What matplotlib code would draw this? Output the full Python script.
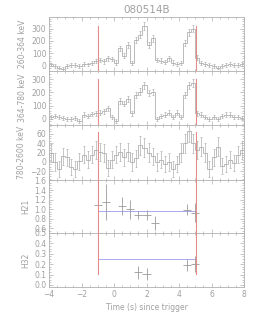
import numpy as np
import matplotlib
matplotlib.use("Agg")
import matplotlib.pyplot as plt
from matplotlib.ticker import MultipleLocator, FixedLocator

# time bins (0.25 s) from -4 to 8 s
edges = np.arange(-4.0, 8.0001, 0.25)
centers = edges[:-1] + 0.125

cnt_lo = [10, -5, -15, -25, 0, 5, 5, 0, 15, 10, 25, 35,
          45, 35, 60, 55, 25, 140, 80, 165, 20, 210, 250, 320,
          165, 220, 45, 40, 30, 60, 25, 15, 20, 180, 270, 300,
          65, 20, 10, 5, 0, -15, 0, 5, 15, 5, 5, 10]
err_lo = [15, 15, 15, 15, 15, 15, 15, 15, 15, 15, 16, 17,
          18, 18, 19, 19, 17, 22, 20, 23, 17, 25, 27, 29,
          23, 25, 18, 18, 17, 19, 17, 16, 16, 24, 28, 29,
          19, 16, 16, 15, 15, 15, 15, 15, 16, 15, 15, 16]

cnt_mid = [10, 20, 15, 5, -5, 0, 5, -20, 30, 20, 35, 40,
           45, 55, 80, 15, -20, 135, 115, 150, 40, 180, 205, 255,
           195, 200, 0, 20, 30, 45, 15, 45, 10, 180, 255, 270,
           40, 30, 15, 0, 10, 0, 20, 30, 30, 15, 15, 5]
err_mid = [16, 16, 16, 15, 15, 15, 15, 15, 17, 16, 17, 17,
           18, 18, 20, 16, 15, 22, 21, 23, 17, 24, 25, 27,
           24, 24, 15, 16, 17, 18, 16, 18, 16, 24, 27, 28,
           17, 17, 16, 15, 16, 15, 16, 17, 17, 16, 16, 15]

cnt_hi = [20, 0, -15, 12, 10, -10, -15, 2, 15, 5, 15, 25,
          22, 18, -12, 5, 15, 22, 10, 22, 0, 8, 35, 30,
          20, 12, 0, 5, -5, 0, -15, -5, 20, 40, 65, 40,
          25, 32, 20, -15, 10, 32, -8, -5, 5, -3, 15, 25]
err_hi = [18, 18, 17, 18, 18, 17, 17, 18, 18, 18, 18, 19,
          19, 19, 17, 18, 18, 19, 18, 19, 18, 18, 20, 20,
          19, 18, 18, 18, 17, 18, 17, 17, 19, 20, 22, 20,
          19, 20, 19, 17, 18, 20, 17, 17, 18, 17, 18, 19]

# hardness ratios
t_h21 = [-1.0, -0.5, 0.5, 1.0, 1.5, 2.0, 2.5, 4.5, 5.0]
h21 = [1.08, 1.15, 1.07, 1.00, 0.88, 0.88, 0.71, 0.99, 0.92]
h21_err = [0.52, 0.38, 0.19, 0.20, 0.09, 0.10, 0.14, 0.12, 0.20]
h21_mean = 0.96

t_h32 = [1.5, 2.0, 4.5, 5.0]
h32 = [0.12, 0.105, 0.19, 0.20]
h32_err = [0.065, 0.055, 0.055, 0.075]
h32_mean = 0.245

t_marks = [-1.0, 5.03]

gray = "#b0b0b0"
tgray = "#a0a0a0"
red = "#e68a8a"
blue = "#a8a8f0"

plt.rcParams["font.size"] = 5.5
plt.rcParams["text.color"] = tgray
plt.rcParams["axes.labelcolor"] = tgray
plt.rcParams["xtick.color"] = gray
plt.rcParams["ytick.color"] = gray
plt.rcParams["xtick.labelcolor"] = tgray
plt.rcParams["ytick.labelcolor"] = tgray
plt.rcParams["axes.edgecolor"] = gray

fig = plt.figure(figsize=(2.69, 3.23), dpi=100)
left, width = 49 / 269, 195 / 269
tops = [17, 71, 125, 180, 233, 287]
axes = []
for i in range(5):
    b = 1 - tops[i + 1] / 323
    h = (tops[i + 1] - tops[i]) / 323
    axes.append(fig.add_axes([left, b, width, h]))

ylims = [(-43, 393), (-48, 362), (-38, 78), (0.5, 1.61), (-0.02, 0.5)]
ylabels = ["260-364 keV", "364-780 keV", "780-2600 keV", "H21", "H32"]
yticks = [[0, 100, 200, 300], [0, 100, 200, 300], [-20, 0, 20, 40, 60],
          [0.6, 0.8, 1.0, 1.2, 1.4, 1.6], [0.0, 0.1, 0.2, 0.3, 0.4, 0.5]]
ytlab = [None, None, None,
         ["0.6", "0.8", "1.0", "1.2", "1.4", "1.6"],
         ["0.0", "0.1", "0.2", "0.3", "0.4", "0.5"]]
minors = [20, 20, 5, 0.05, 0.025]
red_span = [(0, 0.83), (0, 0.86), (0, 0.88), (0, 1), (0.25, 1)]

for i, ax in enumerate(axes):
    ax.set_xlim(-4, 8)
    ax.set_ylim(*ylims[i])
    ax.xaxis.set_major_locator(MultipleLocator(2))
    ax.xaxis.set_minor_locator(MultipleLocator(0.5))
    ax.yaxis.set_major_locator(FixedLocator(yticks[i]))
    if ytlab[i] is not None:
        ax.set_yticklabels(ytlab[i])
    ax.yaxis.set_minor_locator(MultipleLocator(minors[i]))
    ax.tick_params(which="both", direction="in", top=True, right=True,
                   width=0.5, labelsize=5.5, pad=2)
    ax.tick_params(which="major", length=3)
    ax.tick_params(which="minor", length=1.5)
    for s in ax.spines.values():
        s.set_linewidth(0.6)
    ax.set_ylabel(ylabels[i], fontsize=5.5, labelpad=3)
    if i < 4:
        ax.tick_params(labelbottom=False)
    for tm in t_marks:
        ax.axvline(tm, ymin=red_span[i][0], ymax=red_span[i][1],
                   color=red, lw=0.8, zorder=3)

for ax, c, e in zip(axes[:3], [cnt_lo, cnt_mid, cnt_hi], [err_lo, err_mid, err_hi]):
    ax.stairs(c, edges, color=gray, lw=0.6)
    ax.errorbar(centers, c, yerr=e, fmt="none", ecolor=gray, elinewidth=0.5,
                capsize=1, capthick=0.5)

axes[3].hlines(h21_mean, -1, 5, color=blue, lw=0.7)
axes[3].errorbar(t_h21, h21, xerr=0.25, yerr=h21_err, fmt="none",
                 ecolor="#9a9a9a", elinewidth=0.6)
axes[4].hlines(h32_mean, -1, 5, color=blue, lw=0.7)
axes[4].errorbar(t_h32, h32, xerr=0.25, yerr=h32_err, fmt="none",
                 ecolor="#9a9a9a", elinewidth=0.6)

axes[0].set_title("080514B", fontsize=7.5, color=tgray, pad=3)
axes[4].set_xlabel("Time (s) since trigger", fontsize=5.5, labelpad=3)

fig.savefig("out.png", dpi=100)
